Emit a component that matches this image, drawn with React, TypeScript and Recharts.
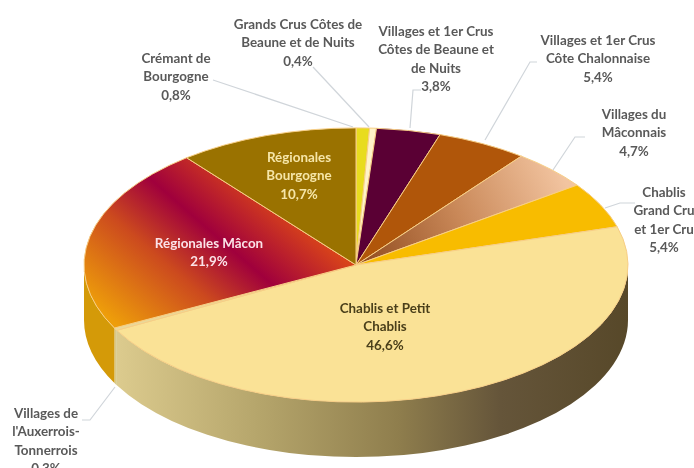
import { PieChart, Pie } from 'recharts';

// clockwise from 12 o'clock
const categories = [
  'Crémant de\nBourgogne',
  'Grands Crus Côtes de\nBeaune et de Nuits',
  'Villages et 1er Crus\nCôtes de Beaune et\nde Nuits',
  'Villages et 1er Crus\nCôte Chalonnaise',
  'Villages du\nMâconnais',
  'Chablis\nGrand Cru\net 1er Cru',
  'Chablis et Petit\nChablis',
  "Villages de\nl'Auxerrois-\nTonnerrois",
  'Régionales Mâcon',
  'Régionales\nBourgogne',
];
const shares = [0.8, 0.4, 3.8, 5.4, 4.7, 5.4, 46.6, 0.3, 21.9, 10.7];

const topFills = ['#E8DC1E', '#FFF3C9', '#5A0034', '#B0560A', 'url(#maconnais)', '#F8BC00', '#FAE296', '#E9D99A', 'url(#macon)', '#9A7200'];
const wallFills = ['#E8DC1E', '#FFF3C9', '#5A0034', '#B0560A', '#C98858', '#F8BC00', 'url(#chablisWall)', '#D8C888', '#D49A08', '#9A7200'];

// label centre x, first line y, text colour, optional leader line
const labelLayout: Array<{ x: number; y: number; color: string; line?: string }> = [
  { x: 176, y: 58, color: '#595959', line: '213,80 353,127' },
  { x: 298, y: 24, color: '#595959', line: '313,67 369,127' },
  { x: 436, y: 31, color: '#595959', line: '421,90 413,90 410,128' },
  { x: 598, y: 40, color: '#595959', line: '537,62 530,62 485,140' },
  { x: 634, y: 114, color: '#595959', line: '585,137 575,137 553,170' },
  { x: 664, y: 192, color: '#595959', line: '635,203 620,203 605,208' },
  { x: 385, y: 308, color: '#4A3F1A' },
  { x: 46, y: 413, color: '#595959', line: '115,387 90,420 82,420' },
  { x: 209, y: 243, color: '#FBE3E8' },
  { x: 299, y: 157, color: '#F6E6A8' },
];

const CX = 356;
const CY = 265;
const RX = 272;
const SQUASH = 0.504;
const DEPTH = 55;
const LINE_H = 18.4;

const rows = categories.map((name, i) => ({ name, value: shares[i], fill: topFills[i] }));
const wallRows = categories.map((name, i) => ({ name, value: shares[i], fill: wallFills[i] }));

const pt = (cx: number, cy: number, r: number, deg: number) => {
  const a = (deg * Math.PI) / 180;
  return `${(cx + r * Math.cos(a)).toFixed(2)} ${(cy - r * SQUASH * Math.sin(a)).toFixed(2)}`;
};

// top face: a pie sector squashed into the ellipse
const TopSlice = (p: any) => {
  const { cx, cy, outerRadius: r, startAngle, endAngle, fill } = p;
  const large = Math.abs(startAngle - endAngle) > 180 ? 1 : 0;
  const d = `M ${cx} ${cy} L ${pt(cx, cy, r, startAngle)} A ${r} ${r * SQUASH} 0 ${large} 1 ${pt(cx, cy, r, endAngle)} Z`;
  return <path d={d} fill={fill} stroke="#F7CE86" strokeWidth={1} strokeLinejoin="round" />;
};

// side wall: only the part of the arc in the front half
const WallSlice = (p: any) => {
  const { cx, cy, outerRadius: r, startAngle, endAngle, fill } = p;
  const hi = Math.min(startAngle, 0);
  const lo = Math.max(endAngle, -180);
  if (lo >= hi) return <g />;
  const d = `M ${pt(cx, cy, r, hi)} A ${r} ${r * SQUASH} 0 0 1 ${pt(cx, cy, r, lo)} L ${pt(cx, cy + DEPTH, r, lo)} A ${r} ${r * SQUASH} 0 0 0 ${pt(cx, cy + DEPTH, r, hi)} Z`;
  return <path d={d} fill={fill} />;
};

const SliceLabel = (p: any) => {
  const i = p.index;
  const spec = labelLayout[i];
  const lines = [...categories[i].split('\n'), `${shares[i].toFixed(1).replace('.', ',')}%`];
  return (
    <g>
      {spec.line && <polyline points={spec.line} fill="none" stroke="#D0D5DA" strokeWidth={1.2} />}
      {lines.map((t, k) => (
        <text
          key={k}
          x={spec.x}
          y={spec.y + k * LINE_H}
          textAnchor="middle"
          dominantBaseline="central"
          fontFamily="Lato, sans-serif"
          fontWeight={700}
          fontSize={13.4}
          fill={spec.color}
        >
          {t}
        </text>
      ))}
    </g>
  );
};

export default function App() {
  return (
    <div style={{ position: 'absolute', left: 0, top: 0, width: 694, height: 468, overflow: 'hidden', background: '#fff', filter: 'blur(0.7px)' }}>
      <PieChart width={694} height={468} margin={{ top: 0, right: 0, bottom: 0, left: 0 }}>
        <defs>
          <linearGradient id="chablisWall" gradientUnits="userSpaceOnUse" x1={116} y1={0} x2={628} y2={0}>
            <stop offset="0" stopColor="#DCCB8E" />
            <stop offset="0.28" stopColor="#B5A56B" />
            <stop offset="0.55" stopColor="#8F7E4D" />
            <stop offset="0.75" stopColor="#65553A" />
            <stop offset="1" stopColor="#574829" />
          </linearGradient>
          <linearGradient id="macon" gradientUnits="userSpaceOnUse" x1={110} y1={320} x2={240} y2={170}>
            <stop offset="0" stopColor="#EE9E0A" />
            <stop offset="0.4" stopColor="#CC4A1E" />
            <stop offset="0.67" stopColor="#A0003C" />
            <stop offset="1" stopColor="#D8431A" />
          </linearGradient>
          <linearGradient id="maconnais" gradientUnits="userSpaceOnUse" x1={357} y1={264} x2={560} y2={170}>
            <stop offset="0" stopColor="#8F4A1E" />
            <stop offset="0.5" stopColor="#C98858" />
            <stop offset="1" stopColor="#F2C4A0" />
          </linearGradient>
        </defs>
        <Pie
          data={wallRows}
          dataKey="value"
          nameKey="name"
          cx={CX}
          cy={CY}
          outerRadius={RX}
          startAngle={90}
          endAngle={-270}
          stroke="none"
          shape={WallSlice}
          isAnimationActive={false}
        />
        <Pie
          data={rows}
          dataKey="value"
          nameKey="name"
          cx={CX}
          cy={CY}
          outerRadius={RX}
          startAngle={90}
          endAngle={-270}
          shape={TopSlice}
          label={SliceLabel}
          labelLine={false}
          isAnimationActive={false}
        />
      </PieChart>
    </div>
  );
}
